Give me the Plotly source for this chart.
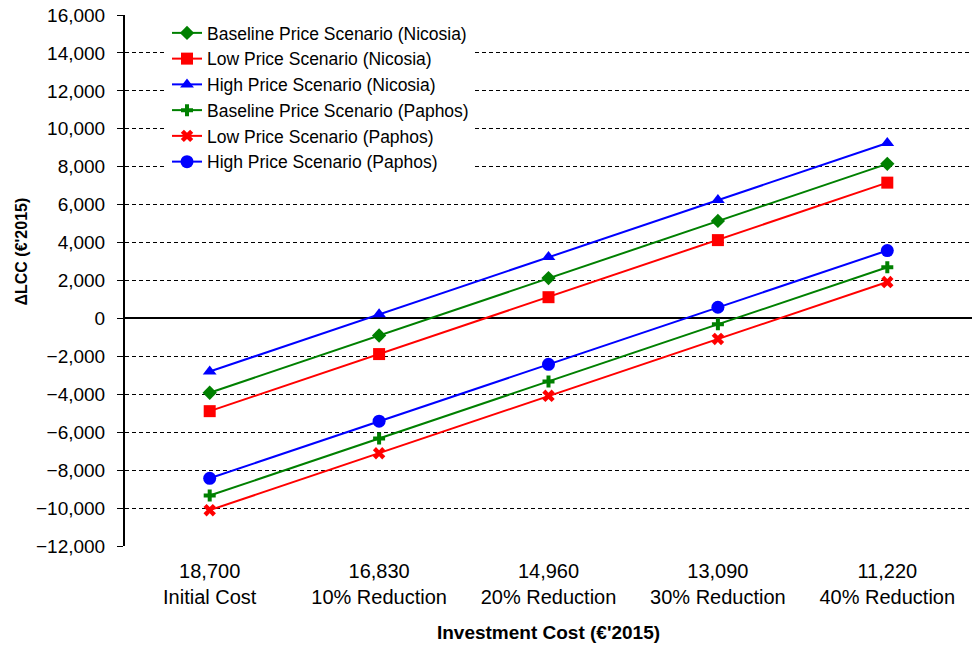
import plotly.graph_objects as go

# Investment cost levels (€'2015) and their labels
cost_values = ["18,700", "16,830", "14,960", "13,090", "11,220"]
cost_labels = ["Initial Cost", "10% Reduction", "20% Reduction", "30% Reduction", "40% Reduction"]
categories = [f"{v}<br>{l}" for v, l in zip(cost_values, cost_labels)]

# ΔLCC (€'2015) per price scenario and location
baseline_nicosia = [-3920, -900, 2130, 5140, 8150]
low_nicosia = [-4890, -1880, 1120, 4130, 7160]
high_nicosia = [-2800, 220, 3240, 6250, 9250]
baseline_paphos = [-9340, -6330, -3330, -310, 2700]
low_paphos = [-10110, -7110, -4080, -1080, 1920]
high_paphos = [-8430, -5420, -2420, 590, 3580]

GREEN = "#008000"
RED = "#FF0000"
BLUE = "#0000FF"
FONT = "Liberation Sans, Arial, sans-serif"

series = [
    ("Baseline Price Scenario (Nicosia)", baseline_nicosia, GREEN, "diamond", 11),
    ("Low Price Scenario (Nicosia)", low_nicosia, RED, "square", 12),
    ("High Price Scenario (Nicosia)", high_nicosia, BLUE, "triangle-up", 12),
    ("Baseline Price Scenario (Paphos)", baseline_paphos, GREEN, "cross", 10),
    ("Low Price Scenario (Paphos)", low_paphos, RED, "x", 11),
    ("High Price Scenario (Paphos)", high_paphos, BLUE, "circle", 13),
]

fig = go.Figure()
for name, vals, color, symbol, size in series:
    fig.add_trace(go.Scatter(
        x=categories, y=vals, name=name, mode="lines+markers",
        line=dict(color=color, width=2),
        marker=dict(symbol=symbol, size=size, color=color, line=dict(width=0)),
    ))

fig.update_layout(
    width=974, height=650,
    margin=dict(l=125, r=2, t=15, b=104, autoexpand=False),
    paper_bgcolor="white", plot_bgcolor="white",
    font=dict(family=FONT, color="black"),
    legend=dict(
        x=0.0496, y=1.0, xanchor="left", yanchor="top",
        bgcolor="white", borderwidth=0,
        font=dict(size=17.5, family=FONT),
    ),
    showlegend=True,
    annotations=[dict(
        text="<b>ΔLCC (€'2015)</b>", textangle=-90,
        xref="paper", yref="paper", x=-0.1216, y=0.5546,
        xanchor="center", yanchor="middle", showarrow=False,
        font=dict(size=16, family=FONT, color="black"),
    )],
)

fig.update_xaxes(
    type="category", range=[-0.5, 4.5],
    showgrid=False, showline=False, zeroline=False, ticks="",
    tickfont=dict(size=20, family=FONT),
    ticklabelstandoff=11,
    title=dict(
        text="<b>Investment Cost (€'2015)</b>",
        font=dict(size=19, family=FONT),
        standoff=18,
    ),
    automargin=False,
)

fig.update_yaxes(
    range=[-12000, 16000], dtick=2000, tick0=0, tickformat=",",
    showline=True, linecolor="black", linewidth=2,
    ticks="outside", ticklen=6, tickcolor="black", tickwidth=1,
    ticklabelstandoff=8,
    tickfont=dict(size=19, family=FONT),
    showgrid=True, gridcolor="black", gridwidth=1, griddash="4px,3px",
    zeroline=True, zerolinecolor="black", zerolinewidth=2,
    automargin=False,
)

fig.write_html("out.html")
